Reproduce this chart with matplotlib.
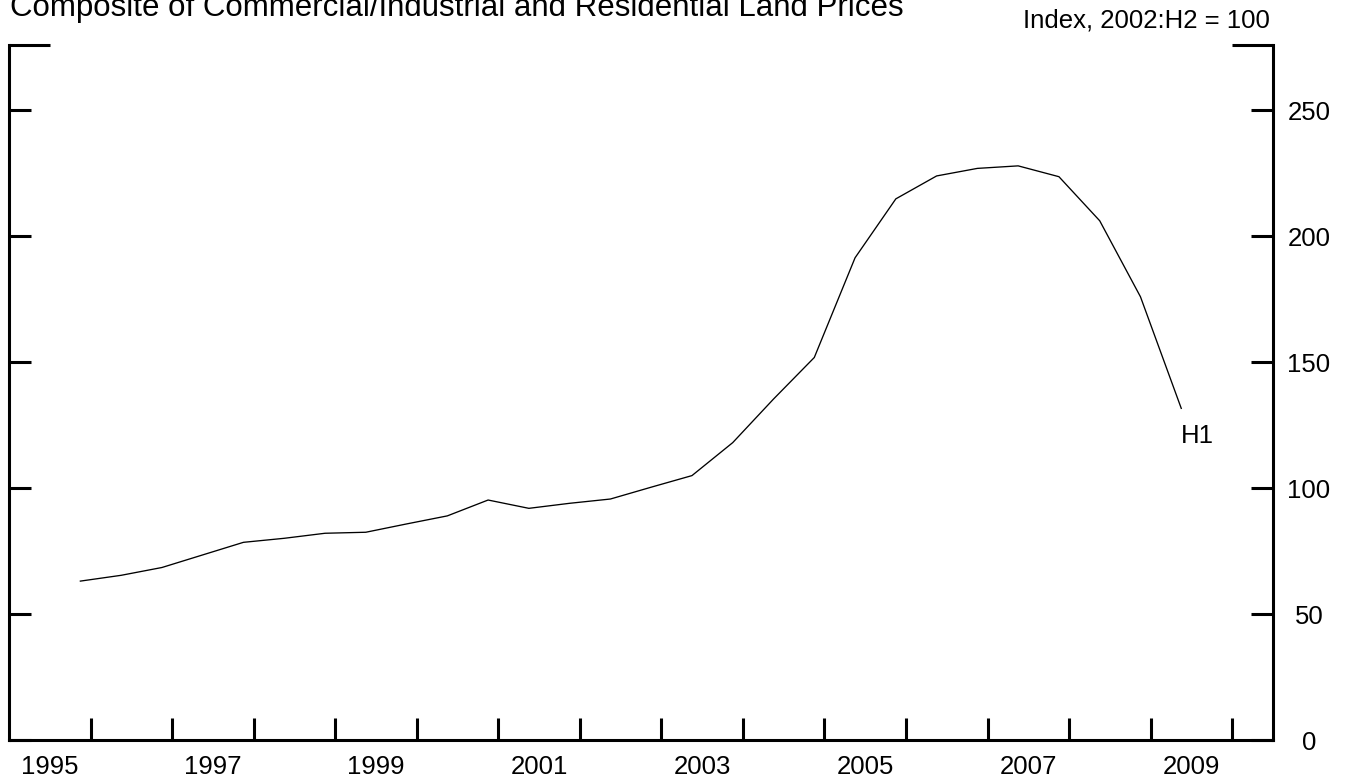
import matplotlib
matplotlib.use("Agg")
import matplotlib.pyplot as plt

plt.rcParams['font.family'] = ['Liberation Sans', 'DejaVu Sans']

# Semiannual periods and index values (2002:H2 = 100)
periods = ["1995:H2", "1996:H1", "1996:H2", "1997:H1", "1997:H2", "1998:H1", "1998:H2",
           "1999:H1", "1999:H2", "2000:H1", "2000:H2", "2001:H1", "2001:H2", "2002:H1",
           "2002:H2", "2003:H1", "2003:H2", "2004:H1", "2004:H2", "2005:H1", "2005:H2",
           "2006:H1", "2006:H2", "2007:H1", "2007:H2", "2008:H1", "2008:H2", "2009:H1"]
values = [63.1, 65.4, 68.5, 73.5, 78.5, 80.1, 82.1,
          82.5, 85.8, 89.0, 95.3, 92.0, 94.0, 95.7,
          100.4, 105.0, 118.1, 135.4, 151.9, 191.5, 214.9,
          224.0, 227.0, 228.0, 223.7, 206.2, 176.0, 131.7]
year_labels = ["1995", "1997", "1999", "2001", "2003", "2005", "2007", "2009"]
y_ticks = [0, 50, 100, 150, 200, 250]

def to_x(p):
    y, h = p.split(":")
    return int(y) + (0.375 if h == "H1" else 0.875)

xs = [to_x(p) for p in periods]

W, H = 1354, 782
fig = plt.figure(figsize=(W / 100, H / 100), dpi=100)
ax = fig.add_axes([9 / W, 42 / H, (1273 - 9) / W, (740 - 45) / H])

ax.plot(xs, values, color="black", lw=0.95)

ax.set_xlim(1995, 2010.5)
ax.set_ylim(0, 276)

for s in ["left", "right", "bottom"]:
    ax.spines[s].set_linewidth(2.2)
ax.spines["top"].set_visible(False)

px = 72 / 100  # points per pixel
FS = 18.5
# Y axis
ax.set_yticks(y_ticks)
ax.set_yticks([276], minor=True)
ax.yaxis.set_ticks_position("both")
ax.tick_params(axis="y", which="major", direction="in", length=22 * px, width=2.2,
               labelleft=False, labelright=True, labelsize=FS, pad=36 * px)
ax.tick_params(axis="y", which="minor", direction="in", length=41 * px, width=2.2,
               labelleft=False, labelright=False)
for lab in ax.get_yticklabels():
    lab.set_horizontalalignment("center")

# X axis: ticks at year starts, labels at mid-year
ax.set_xticks(list(range(1996, 2011)))
ax.set_xticklabels([])
ax.set_xticks([int(y) + 0.5 for y in year_labels], minor=True)
ax.set_xticklabels(year_labels, minor=True)
ax.tick_params(axis="x", which="major", direction="in", length=22 * px, width=2.2)
ax.tick_params(axis="x", which="minor", length=0, labelsize=FS, pad=15 * px)

ax.annotate("H1", xy=(xs[-1], values[-1]), xytext=(16, -28), textcoords="offset pixels",
            ha="center", va="center", fontsize=FS)

fig.text(10 / W, 1 - 16 / H, "Composite of Commercial/Industrial and Residential Land Prices",
         ha="left", va="baseline", fontsize=22.5)
fig.text(1270 / W, 1 - 27.5 / H, "Index, 2002:H2 = 100", ha="right", va="baseline", fontsize=FS)

fig.savefig("out.png", dpi=100)
